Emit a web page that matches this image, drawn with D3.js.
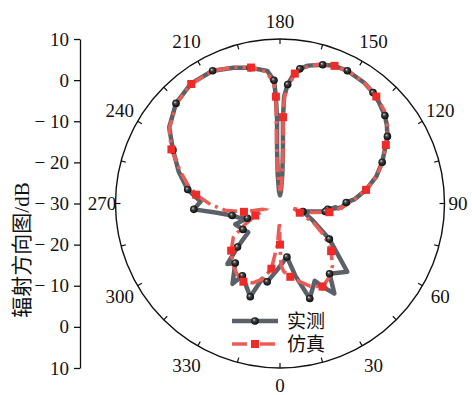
<!DOCTYPE html>
<html>
<head>
<meta charset="utf-8">
<script src="https://cdn.jsdelivr.net/npm/d3@7/dist/d3.min.js"></script>
<style>
  html, body { margin: 0; padding: 0; background: #fff; }
  svg { display: block; }
  text { font-family: "Liberation Serif", "Noto Sans CJK SC", serif; fill: #111; }
</style>
</head>
<body>
<svg id="chart" width="472" height="395"></svg>
<script>
// Measured pattern: azimuth (deg, 0 at bottom, increasing counter-clockwise on screen) and gain (dB)
const measuredAngle = [180, 175.5, 175.5, 176.9, 178, 177.8, 176.3, 174.2, 171.6, 168.6, 162.9, 158.4, 153.1, 145.1, 140, 135.6, 130, 126.2, 122, 118.9, 112, 105.6, 99.1, 93.1, 90.9, 86.3, 83, 86, 80, 75, 70.8, 63.4, 54.2, 44.6, 35.2, 31.1, 27.1, 24.2, 17.4, 12, 7.4, 358.3, 350.7, 346.7, 342.3, 336, 332.5, 329.4, 323.1, 319, 315.7, 312.2, 305, 295, 294.4, 288.4, 284, 277.9, 273.9, 268.6, 261.4, 252.6, 243.4, 235.5, 226.1, 216.6, 206.9, 198.9, 192.4, 185.5, 182.8, 182.2, 182, 183.1, 184.5, 184.5, 180];
const measuredDb = [-28, -27, -22.8, -16.8, -9.5, -4, -1, 1.3, 3.1, 4.2, 5.3, 6.0, 6.2, 5.8, 5.2, 4.4, 3.3, 2.2, 0.8, -0.6, -3.2, -5.7, -8.8, -11.9, -13.9, -15.0, -18.3, -16.5, -18.8, -22.5, -24.1, -21.4, -15.2, -6.7, -9.1, -4.4, -7.3, -9.4, -5.8, -12, -16.9, -14.1, -10.7, -11.2, -6.2, -9, -10.2, -7.3, -11.9, -10.5, -15.2, -19.6, -19, -18.0, -21.3, -19.3, -18, -14.2, -9.0, -10.7, -7.3, -4.2, -0.9, 2.7, 5.1, 6.3, 6.2, 4.9, 3.8, 2.4, 0, -4, -9.5, -16.8, -22.8, -27, -28];

// Simulated pattern
const simulatedAngle = [180, 175.5, 175.8, 177, 178, 177.6, 176, 173.5, 170, 165, 158.4, 152, 145, 138, 131.8, 125, 118.9, 112, 105.6, 99, 93, 86, 80, 74, 70, 65, 60, 54, 47, 40.1, 33, 27.1, 20, 14.2, 8, 3, 1, 0, 358.5, 356.5, 352.5, 347.4, 341, 334.9, 328, 321.3, 314, 305.9, 301, 296, 292, 288, 283, 277, 270.8, 264, 258.5, 252, 243.5, 236, 226, 216.6, 207, 199, 192, 186, 183, 182.2, 182.4, 183.2, 184.5, 180];
const simulatedDb = [-27, -26, -21, -15, -9, -4, -1.5, 1.8, 3.5, 5.0, 6.0, 6.2, 5.8, 5.0, 4.0, 2.0, -0.6, -3.0, -5.7, -8.8, -11.9, -15, -17.8, -22, -26.5, -24.7, -20.5, -16.6, -13, -10.2, -8.3, -7.3, -8.6, -10.4, -12, -13.5, -15, -20, -25.5, -20, -14, -11.2, -9.6, -9.0, -10, -11.5, -13.5, -16.0, -20, -23.3, -26, -25.5, -21, -16.5, -13.1, -9.5, -7.1, -4.5, -0.5, 2.5, 5.0, 6.2, 6.2, 5.0, 3.8, 2.2, -0.5, -4, -9, -15, -21, -27];

// Angular tick labels and radial (dB) axis labels
const angleTicks = [0, 30, 60, 90, 120, 150, 180, 210, 240, 270, 300, 330];
const angleTickLabels = ["0", "30", "60", "90", "120", "150", "180", "210", "240", "270", "300", "330"];
const dbAxisLabels = ["10", "0", "\u2212 10", "\u2212 20", "\u2212 30", "\u2212 20", "\u2212 10", "0", "10"];
const seriesNames = ["实测", "仿真"];
const axisTitle = "辐射方向图/dB";

const svg = d3.select("#chart");
const cx = 280, cy = 203.5, R = 164.5;
const toRad = Math.PI / 180;

// dB -> radius, azimuth -> d3 radial angle (clockwise from 12 o'clock)
const rScale = d3.scaleLinear().domain([-30, 10]).range([0, R]).clamp(true);
const aScale = d3.scaleLinear().domain([0, 360]).range([Math.PI, -Math.PI]);

const defs = svg.append("defs");
const grad = defs.append("radialGradient").attr("id", "ball")
  .attr("cx", "50%").attr("cy", "50%").attr("r", "55%").attr("fx", "35%").attr("fy", "32%");
grad.append("stop").attr("offset", "0%").attr("stop-color", "#d8d8d8");
grad.append("stop").attr("offset", "35%").attr("stop-color", "#444");
grad.append("stop").attr("offset", "100%").attr("stop-color", "#000");

const g = svg.append("g").attr("transform", `translate(${cx},${cy})`);

// Outer circle
g.append("circle").attr("r", R).attr("fill", "none").attr("stroke", "#111").attr("stroke-width", 1.4);

// Angular ticks every 15 degrees, pointing inward
const tickAngles = d3.range(0, 360, 15);
g.selectAll("line.atick").data(tickAngles).join("line")
  .attr("class", "atick")
  .attr("x1", d => R * Math.sin(d * toRad)).attr("y1", d => R * Math.cos(d * toRad))
  .attr("x2", d => (R - 5) * Math.sin(d * toRad)).attr("y2", d => (R - 5) * Math.cos(d * toRad))
  .attr("stroke", "#111").attr("stroke-width", 1.2);

// Angular labels, pushed a little further out on the diagonals
const labelRadius = d => {
  const t = d * toRad;
  return 178 + 4 * Math.cos(t) ** 2 + 7 * Math.abs(Math.sin(2 * t));
};
g.selectAll("text.alabel").data(angleTicks).join("text")
  .attr("class", "alabel")
  .attr("x", d => labelRadius(d) * Math.sin(d * toRad))
  .attr("y", d => labelRadius(d) * Math.cos(d * toRad))
  .attr("text-anchor", "middle").attr("dominant-baseline", "central")
  .attr("font-size", 19)
  .text((d, i) => angleTickLabels[i]);

// Series
const measured = measuredAngle.map((a, i) => ({ a, v: measuredDb[i] }));
const simulated = simulatedAngle.map((a, i) => ({ a, v: simulatedDb[i] }));

const radialLine = d3.lineRadial()
  .angle(d => aScale(d.a))
  .radius(d => rScale(d.v));

const px = d => rScale(d.v) * Math.sin(d.a * toRad);
const py = d => rScale(d.v) * Math.cos(d.a * toRad);

const grayCol = "#5b6166", redLine = "#ea5d57", redMark = "#ee2b28";

g.append("path").datum(measured).attr("d", radialLine)
  .attr("fill", "none").attr("stroke", grayCol).attr("stroke-width", 4.5)
  .attr("stroke-linejoin", "round").attr("stroke-linecap", "round");

g.append("path").datum(simulated).attr("d", radialLine)
  .attr("fill", "none").attr("stroke", redLine).attr("stroke-width", 3.6)
  .attr("stroke-dasharray", "15,5,3,5").attr("stroke-linecap", "butt");

g.selectAll("circle.mball").data(measured.filter((d, i) => i % 2 === 0 && i > 5 && i < measured.length - 6)).join("circle")
  .attr("class", "mball")
  .attr("cx", px).attr("cy", py).attr("r", 3.8).attr("fill", "url(#ball)");

g.selectAll("rect.smark").data(simulated.filter((d, i) => i % 3 === 1 && i > 3 && i < simulated.length - 3)).join("rect")
  .attr("class", "smark")
  .attr("x", d => px(d) - 4).attr("y", d => py(d) - 4)
  .attr("width", 8).attr("height", 8).attr("fill", redMark);

// Radial dB axis on the left, mirrored about the centre
const yScale = d3.scaleLinear().domain([-40, 40]).range([cy + R, cy - R]);
const yAxis = d3.axisLeft(yScale)
  .tickValues(d3.range(40, -41, -10))
  .tickFormat((d, i) => dbAxisLabels[i])
  .tickSize(6).tickSizeOuter(0).tickPadding(5);
const ax = svg.append("g").attr("transform", "translate(80,0)").call(yAxis);
ax.select(".domain").attr("stroke", "#111").attr("stroke-width", 1.3);
ax.selectAll(".tick line").attr("stroke", "#111").attr("stroke-width", 1.3);
ax.selectAll(".tick text").attr("font-size", 19).attr("fill", "#111")
  .attr("font-family", "Liberation Serif, serif");

// Axis title
svg.append("text")
  .attr("transform", "translate(22,250) rotate(-90)")
  .attr("text-anchor", "middle").attr("dominant-baseline", "central")
  .attr("font-size", 21)
  .text(axisTitle);

// Legend
const leg = svg.append("g");
leg.append("line").attr("x1", 232).attr("x2", 278).attr("y1", 321).attr("y2", 321)
  .attr("stroke", grayCol).attr("stroke-width", 4.5);
leg.append("circle").attr("cx", 255).attr("cy", 321).attr("r", 3.8).attr("fill", "url(#ball)");
leg.append("text").attr("x", 287).attr("y", 321).attr("dominant-baseline", "central")
  .attr("font-size", 19).text(seriesNames[0]);

leg.append("line").attr("x1", 232).attr("x2", 278).attr("y1", 344).attr("y2", 344)
  .attr("stroke", redLine).attr("stroke-width", 3.6).attr("stroke-dasharray", "15,5,3,5");
leg.append("rect").attr("x", 251).attr("y", 340).attr("width", 8).attr("height", 8).attr("fill", redMark);
leg.append("text").attr("x", 287).attr("y", 344).attr("dominant-baseline", "central")
  .attr("font-size", 19).text(seriesNames[1]);
</script>
</body>
</html>
